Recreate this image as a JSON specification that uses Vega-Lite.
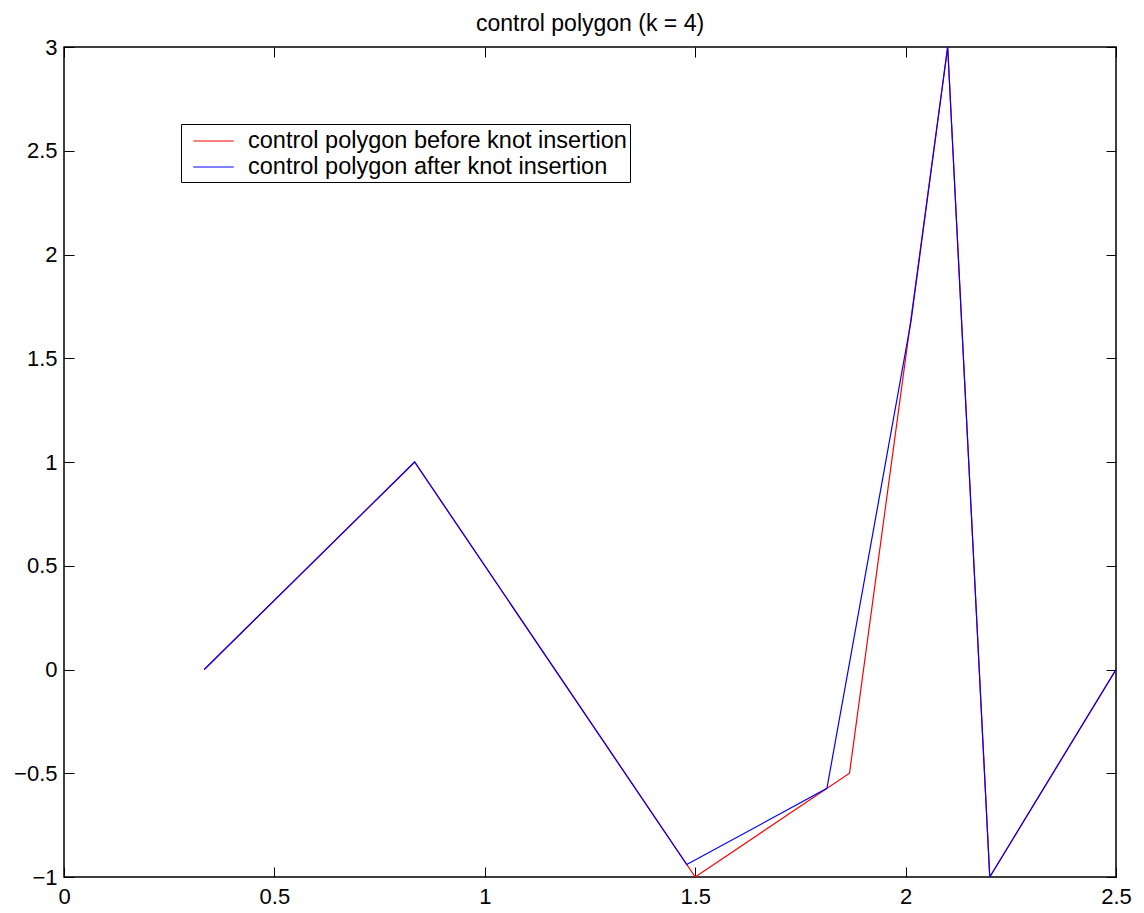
{
  "$schema": "https://vega.github.io/schema/vega-lite/v6.json",
  "autosize": "none",
  "width": 1052,
  "height": 830,
  "padding": {"left": 64, "top": 47, "right": 28, "bottom": 36},
  "background": "white",
  "config": {
    "font": "Liberation Sans",
    "view": {"stroke": "black", "strokeWidth": 1.5},
    "axis": {"grid": false, "domain": false, "tickColor": "black", "labelColor": "black", "labelFont": "Liberation Sans", "labelFontSize": 22, "format": "~g"}
  },
  "title": {"text": "control polygon (k = 4)", "fontSize": 23, "fontWeight": "normal", "font": "Liberation Sans", "color": "black", "offset": 0},
  "data": {"values": [
    {"series": "control polygon before knot insertion", "i": 1, "x": 0.3333, "y": 0},
    {"series": "control polygon before knot insertion", "i": 2, "x": 0.8333, "y": 1},
    {"series": "control polygon before knot insertion", "i": 3, "x": 1.5, "y": -1},
    {"series": "control polygon before knot insertion", "i": 4, "x": 1.8667, "y": -0.5},
    {"series": "control polygon before knot insertion", "i": 5, "x": 2.1, "y": 3},
    {"series": "control polygon before knot insertion", "i": 6, "x": 2.2, "y": -1},
    {"series": "control polygon before knot insertion", "i": 7, "x": 2.5, "y": 0},
    {"series": "control polygon after knot insertion", "i": 1, "x": 0.3333, "y": 0},
    {"series": "control polygon after knot insertion", "i": 2, "x": 0.8333, "y": 1},
    {"series": "control polygon after knot insertion", "i": 3, "x": 1.48, "y": -0.94},
    {"series": "control polygon after knot insertion", "i": 4, "x": 1.813, "y": -0.573},
    {"series": "control polygon after knot insertion", "i": 5, "x": 2.013, "y": 1.68},
    {"series": "control polygon after knot insertion", "i": 6, "x": 2.1, "y": 3},
    {"series": "control polygon after knot insertion", "i": 7, "x": 2.2, "y": -1},
    {"series": "control polygon after knot insertion", "i": 8, "x": 2.5, "y": 0}
  ]},
  "layer": [
    {
      "mark": {"type": "line", "strokeWidth": 1.2, "clip": true},
      "encoding": {
        "x": {"field": "x", "type": "quantitative", "scale": {"domain": [0, 2.5], "nice": false, "zero": false},
              "axis": {"orient": "bottom", "values": [0, 0.5, 1, 1.5, 2, 2.5], "tickSize": -10, "labelPadding": 19, "title": null, "labelFlush": false}},
        "y": {"field": "y", "type": "quantitative", "scale": {"domain": [-1, 3], "nice": false, "zero": false},
              "axis": {"orient": "left", "values": [-1, -0.5, 0, 0.5, 1, 1.5, 2, 2.5, 3], "tickSize": -10, "labelPadding": 17, "title": null, "labelFlush": false}},
        "color": {"field": "series", "type": "nominal",
                  "scale": {"domain": ["control polygon before knot insertion", "control polygon after knot insertion"], "range": ["#ff0000", "#0000ff"]},
                  "legend": {"title": null, "orient": "none", "legendX": 117, "legendY": 77, "strokeColor": "black", "fillColor": "white", "padding": 3,
                             "symbolType": "M-1.5,0H1.5", "symbolSize": 729, "symbolStrokeWidth": 1, "symbolOffset": 15.5, "labelFontSize": 23.5, "labelFont": "Liberation Sans", "labelColor": "black", "labelOffset": 20.5, "rowPadding": 0, "labelLimit": 600}},
        "order": {"field": "i", "type": "quantitative"}
      }
    },
    {
      "mark": {"type": "point", "opacity": 0},
      "encoding": {
        "x": {"field": "x", "type": "quantitative", "axis": {"orient": "top", "values": [0, 0.5, 1, 1.5, 2, 2.5], "tickSize": -10, "labels": false, "title": null}},
        "y": {"field": "y", "type": "quantitative", "axis": {"orient": "right", "values": [-1, -0.5, 0, 0.5, 1, 1.5, 2, 2.5, 3], "tickSize": -10, "labels": false, "title": null}}
      }
    }
  ],
  "resolve": {"axis": {"x": "independent", "y": "independent"}}
}
